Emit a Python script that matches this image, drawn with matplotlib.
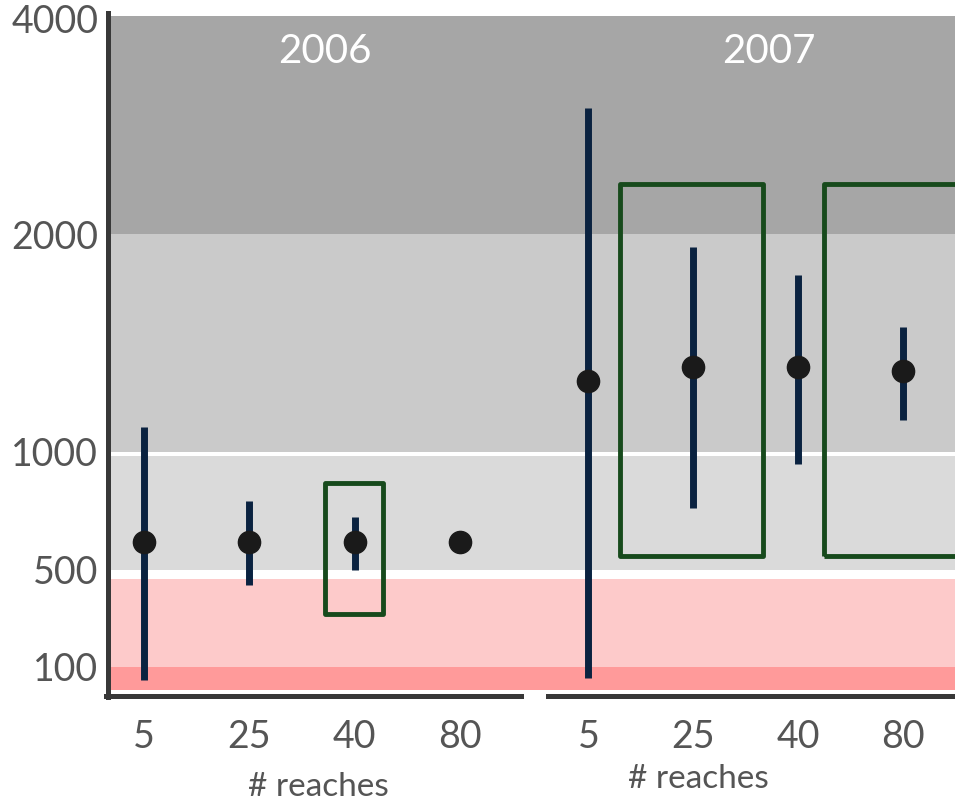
import numpy as np
import matplotlib
matplotlib.use("Agg")
from matplotlib import pyplot as plt
from matplotlib.patches import Rectangle

plt.rcParams['font.family'] = ['Lato', 'DejaVu Sans']

# data
reaches = ["5", "25", "40", "80"]
years = ["2006", "2007"]
mean_2006 = [590, 590, 590, 590]
lo_2006 = [68, 390, 500, np.nan]
hi_2006 = [1083, 750, 683, np.nan]
mean_2007 = [1253, 1310, 1310, 1294]
lo_2007 = [72, 720, 932, 1107]
hi_2007 = [2996, 1919, 1756, 1488]

# highlight boxes: (x from, x to, low, high) in reach-slot units
boxes_2006 = [(1.72, 2.27, 241, 833)]
boxes_2007 = [(0.30, 1.67, 543, 2348), (2.25, 3.8, 543, 2348)]

band_edges = [50, 100, 500, 1000, 2000, 4100]
band_colors = ["#ff9a9a", "#fdcaca", "#dadada", "#cacaca", "#a6a6a6"]
gaps = [(430, 500), (975, 1000)]
y_ticks = [100, 500, 1000, 2000, 4000]

# piecewise (log-interpolated) y scale, as in the original axis
scale_vals = [25, 50, 100, 500, 1000, 2000, 4000, 8000]
scale_pos = [-23, 0, 23, 120, 238, 456, 672, 888]

def forward(v):
    v = np.clip(np.asarray(v, dtype=float), 1e-9, None)
    return np.interp(np.log(v), np.log(scale_vals), scale_pos)

def inverse(p):
    return np.exp(np.interp(p, scale_pos, np.log(scale_vals)))

txt = "#555555"
spine_c = "#383838"

fig = plt.figure(figsize=(9.55, 8.02), dpi=100)
ax1 = fig.add_axes([0.1152, 0.1397, 0.445, 0.8403])
ax2 = fig.add_axes([0.5602, 0.1397, 0.4398, 0.8403])

panels = [
    (ax1, years[0], mean_2006, lo_2006, hi_2006, boxes_2006, (-0.32, 3.71), (-0.36, 3.58), (0.49, -0.122), 1.72),
    (ax2, years[1], mean_2007, lo_2007, hi_2007, boxes_2007, (-0.51, 3.50), (-0.39, 3.6), (0.39, -0.110), 1.72),
]

for ax, yr, mean, lo, hi, boxes, xl, xb, labxy, yrx in panels:
    ax.set_yscale('function', functions=(forward, inverse))
    ax.set_ylim(50, 4026)
    ax.set_xlim(*xl)
    x = np.arange(len(reaches))

    for a, b, c in zip(band_edges[:-1], band_edges[1:], band_colors):
        ax.axhspan(a, b, color=c, lw=0, zorder=0)
    for a, b in gaps:
        ax.axhspan(a, b, color="white", lw=0, zorder=0.5)

    ax.vlines(x, lo, hi, color="#0a2240", lw=5, zorder=2)
    ax.plot(x, mean, 'o', color="#1a1a1a", ms=16, zorder=3)

    for x0, x1, b0, b1 in boxes:
        ax.add_patch(Rectangle((x0, b0), x1 - x0, b1 - b0, fill=False,
                               ec="#174a1c", lw=3.5, joinstyle='round', zorder=4))

    ax.text(yrx, 0.947, yr, transform=ax.get_xaxis_transform(), color="white",
            fontsize=29, ha="center", va="center")

    ax.set_xticks(x)
    ax.set_xticklabels(reaches)
    ax.set_xlabel("# reaches", fontsize=24, color=txt)
    ax.xaxis.set_label_coords(*labxy)
    ax.tick_params(axis='x', length=0, labelsize=27, colors=txt, pad=17)

    for s in ["top", "right"]:
        ax.spines[s].set_visible(False)
    ax.spines["bottom"].set_position(("outward", 4))
    ax.spines["bottom"].set_linewidth(3.6)
    ax.spines["bottom"].set_color(spine_c)
    ax.spines["bottom"].set_bounds(*xb)

ax1.set_yticks(y_ticks)
ax1.set_yticklabels([str(t) for t in y_ticks])
ax1.tick_params(axis='y', length=0, labelsize=27, colors=txt, pad=7)
ax1.spines["left"].set_position(("outward", 1.5))
ax1.spines["left"].set_linewidth(3.6)
ax1.spines["left"].set_color(spine_c)
ax1.spines["left"].set_bounds(40, 4060)

ax2.spines["left"].set_visible(False)
ax2.set_yticks([])

fig.savefig("out.png", dpi=100)
